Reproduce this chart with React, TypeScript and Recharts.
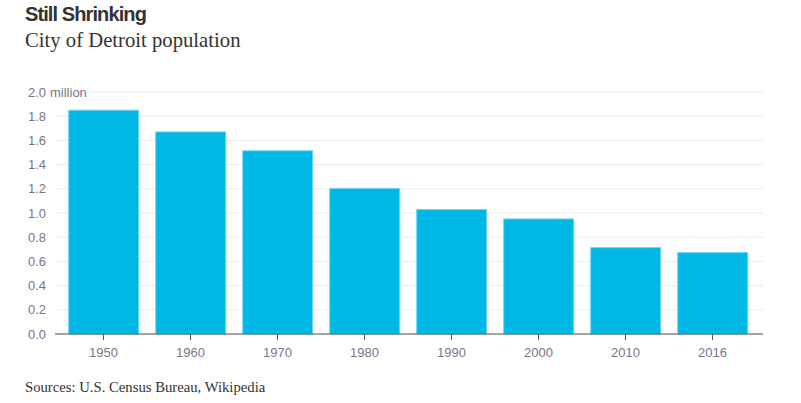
import { BarChart, Bar, XAxis, YAxis, CartesianGrid } from "recharts"

const years = ["1950", "1960", "1970", "1980", "1990", "2000", "2010", "2016"]
const population = [1.85, 1.67, 1.514, 1.203, 1.028, 0.951, 0.714, 0.673]
const yTicks = [0, 0.2, 0.4, 0.6, 0.8, 1.0, 1.2, 1.4, 1.6, 1.8, 2.0]

const data = years.map((year, i) => ({ year, value: population[i] }))

const tickColor = "#7a7689"
const tickFont = "'Liberation Sans', Arial, sans-serif"

// y tick: top one gets the "million" suffix and hides the grid behind it
function YTick(props: any) {
  const { x, y, payload } = props
  const label = Number(payload.value).toFixed(1)
  const isTop = payload.value === 2
  return (
    <g>
      {isTop && <rect x={x - 12} y={y - 8} width={52} height={16} fill="#fff" />}
      <text x={x - 1} y={y} dy="0.35em" textAnchor="end" fontSize={13} fill={tickColor} fontFamily={tickFont}>
        {label}
      </text>
      {isTop && (
        <text x={x + 3} y={y} dy="0.35em" textAnchor="start" fontSize={13} fill={tickColor} fontFamily={tickFont}>
          million
        </text>
      )}
    </g>
  )
}

export default function App() {
  return (
    <div style={{ position: "absolute", left: 0, top: 0, width: 801, height: 403, background: "#fff" }}>
      <div style={{
        position: "absolute", left: 25, top: 3,
        fontFamily: "'Liberation Sans', Arial, sans-serif", fontWeight: 700,
        fontSize: 20, letterSpacing: -0.9, color: "#333",
      }}>
        Still Shrinking
      </div>
      <div style={{
        position: "absolute", left: 25, top: 29,
        fontFamily: "'Liberation Serif', 'DejaVu Serif', serif",
        fontSize: 20.7, color: "#333",
      }}>
        City of Detroit population
      </div>

      <BarChart
        width={801}
        height={403}
        data={data}
        margin={{ top: 92, right: 38, left: 0, bottom: 0 }}
        barCategoryGap="10%"
        style={{ position: "absolute", left: 0, top: 0 }}
      >
        <CartesianGrid vertical={false} stroke="#ebebeb" />
        <XAxis
          dataKey="year"
          height={69}
          padding={{ left: 5, right: 7 }}
          axisLine={{ stroke: "#555" }}
          tickLine={{ stroke: "#555" }}
          tickSize={6}
          tickMargin={8}
          tick={{ fontSize: 13, fill: tickColor, fontFamily: tickFont }}
        />
        <YAxis
          width={55}
          domain={[0, 2]}
          ticks={yTicks}
          axisLine={false}
          tickLine={false}
          interval={0}
          tick={<YTick />}
        />
        <Bar dataKey="value" fill="#00b8e6" stroke="#6fd3f1" strokeWidth={1} isAnimationActive={false} />
      </BarChart>

      <div style={{
        position: "absolute", left: 25, top: 379,
        fontFamily: "'Liberation Serif', 'DejaVu Serif', serif",
        fontSize: 14.7, color: "#333",
      }}>
        Sources: U.S. Census Bureau, Wikipedia
      </div>
    </div>
  )
}
